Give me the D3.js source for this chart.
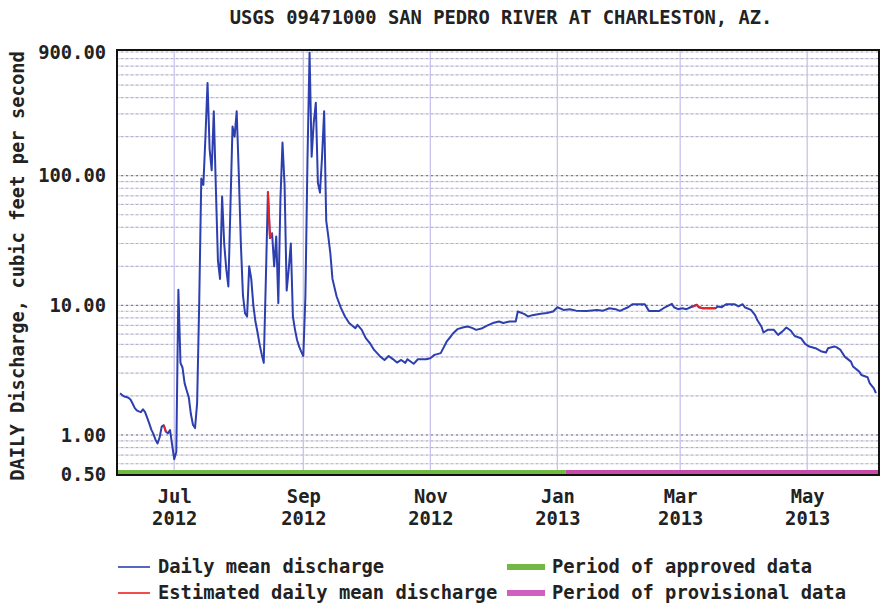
<!DOCTYPE html>
<html><head><meta charset="utf-8">
<script src="https://cdn.jsdelivr.net/npm/d3@7/dist/d3.min.js"></script>
<style>
body{margin:0;background:#fff}
text{font-family:"DejaVu Sans Mono","Liberation Mono",monospace;font-weight:bold;fill:#222}
</style>
</head><body>
<svg id="chart" width="882" height="608"></svg>
<script>
// ---------------- data ----------------
const title = "USGS 09471000 SAN PEDRO RIVER AT CHARLESTON, AZ.";
const yLabel = "DAILY Discharge, cubic feet per second";

const dates = [
"2012-06-05","2012-06-06","2012-06-07","2012-06-08","2012-06-09","2012-06-10","2012-06-11","2012-06-12","2012-06-13","2012-06-14",
"2012-06-15","2012-06-16","2012-06-17","2012-06-18","2012-06-19","2012-06-20","2012-06-21","2012-06-22","2012-06-23","2012-06-24",
"2012-06-25","2012-06-26","2012-06-27","2012-06-28","2012-06-29","2012-06-30","2012-07-01","2012-07-02","2012-07-03","2012-07-04",
"2012-07-05","2012-07-06","2012-07-07","2012-07-08","2012-07-09","2012-07-10","2012-07-11","2012-07-12","2012-07-13","2012-07-14",
"2012-07-15","2012-07-16","2012-07-17","2012-07-18","2012-07-19","2012-07-20","2012-07-21","2012-07-22","2012-07-23","2012-07-24",
"2012-07-25","2012-07-26","2012-07-27","2012-07-28","2012-07-29","2012-07-30","2012-07-31","2012-08-01","2012-08-02","2012-08-03",
"2012-08-04","2012-08-05","2012-08-06","2012-08-07","2012-08-08","2012-08-09","2012-08-10","2012-08-11","2012-08-12","2012-08-13",
"2012-08-14","2012-08-15","2012-08-16","2012-08-17","2012-08-18","2012-08-19","2012-08-20","2012-08-21","2012-08-22","2012-08-23",
"2012-08-24","2012-08-25","2012-08-26","2012-08-27","2012-08-28","2012-08-29","2012-08-30","2012-08-31","2012-09-01","2012-09-02",
"2012-09-03","2012-09-04","2012-09-05","2012-09-06","2012-09-07","2012-09-08","2012-09-09","2012-09-10","2012-09-11","2012-09-12",
"2012-09-13","2012-09-14","2012-09-15","2012-09-17","2012-09-19","2012-09-21","2012-09-23","2012-09-26","2012-09-27","2012-09-29",
"2012-10-01","2012-10-03","2012-10-05","2012-10-08","2012-10-10","2012-10-12","2012-10-14","2012-10-16","2012-10-18","2012-10-20",
"2012-10-21","2012-10-24","2012-10-26","2012-10-30","2012-11-01","2012-11-03","2012-11-06","2012-11-09","2012-11-11","2012-11-12",
"2012-11-14","2012-11-17","2012-11-19","2012-11-21","2012-11-23","2012-11-26","2012-11-28","2012-12-01","2012-12-04","2012-12-06",
"2012-12-09","2012-12-12","2012-12-13","2012-12-16","2012-12-18","2012-12-20","2012-12-24","2012-12-27","2012-12-30","2013-01-01",
"2013-01-04","2013-01-07","2013-01-10","2013-01-15","2013-01-20","2013-01-23","2013-01-26","2013-01-29","2013-01-31","2013-02-04",
"2013-02-06","2013-02-12","2013-02-14","2013-02-19","2013-02-21","2013-02-25","2013-02-26","2013-02-28","2013-03-02","2013-03-04",
"2013-03-06","2013-03-07","2013-03-09","2013-03-10","2013-03-12","2013-03-18","2013-03-19","2013-03-21","2013-03-23","2013-03-27",
"2013-03-29","2013-03-31","2013-04-01","2013-04-04","2013-04-06","2013-04-07","2013-04-09","2013-04-10","2013-04-12","2013-04-15",
"2013-04-17","2013-04-19","2013-04-21","2013-04-23","2013-04-25","2013-04-28","2013-04-30","2013-05-02","2013-05-05","2013-05-08",
"2013-05-10","2013-05-11","2013-05-14","2013-05-15","2013-05-17","2013-05-19","2013-05-22","2013-05-23","2013-05-26","2013-05-27",
"2013-05-30","2013-05-31","2013-06-02","2013-06-03"
];
const discharge = [
2.10,2.03,1.98,1.96,1.94,1.88,1.75,1.62,1.55,1.52,
1.50,1.58,1.50,1.36,1.23,1.10,1.02,0.92,0.86,0.96,
1.16,1.19,1.06,1.03,1.09,0.84,0.65,0.74,13.2,3.6,
3.3,2.5,2.2,1.95,1.45,1.2,1.13,1.76,10.4,95,
85,200,520,160,110,314,80,22,16,69,
30,19,14,58,240,200,314,105,30,12,
8.7,8.2,20,16,10,7.5,6.2,5.0,4.2,3.6,
15.7,75,33,36,20,34,10.4,65,180,85,
13,19,30,8.2,6.5,5.4,4.8,4.4,4.07,11.7,
133,890,140,256,365,88,74,140,314,45,
34,25,16,11.7,9.6,8.2,7.3,6.66,7.07,6.5,
5.58,5.1,4.53,4.02,3.79,4.07,3.85,3.62,3.79,3.6,
3.84,3.54,3.84,3.84,3.91,4.15,4.28,5.3,5.8,6.1,
6.55,6.78,6.87,6.7,6.47,6.66,6.94,7.3,7.5,7.3,
7.5,7.5,8.97,8.6,8.2,8.4,8.6,8.72,8.97,9.67,
9.22,9.34,9.1,9.06,9.22,9.1,9.5,9.34,9.06,9.67,
10.2,10.2,9.06,9.06,9.5,10.26,9.67,9.34,9.5,9.34,
9.67,9.8,10.1,9.67,9.5,9.5,9.8,9.67,10.2,10.2,
9.8,10.2,9.67,9.22,8.4,7.7,6.87,6.17,6.47,6.47,
5.92,6.27,6.74,6.4,5.8,5.58,5.04,4.81,4.67,4.4,
4.32,4.67,4.81,4.76,4.53,4.02,3.68,3.37,3.08,2.9,
2.79,2.51,2.29,2.1
];
const estimatedDates = ["2012-06-26","2012-06-27","2012-08-15","2012-08-16","2012-08-17",
  "2013-03-07","2013-03-09","2013-03-10","2013-03-12","2013-03-18"];

const yTicks = [0.5, 1, 10, 100, 900];
const xTickDates = ["2012-07-01","2012-09-01","2012-11-01","2013-01-01","2013-03-01","2013-05-01"];
const periodStart = "2012-06-04", periodEnd = "2013-06-04";
const provisionalStart = "2013-01-05";
const legendLines = [
  {label:"Daily mean discharge", color:"#2d3fae", kind:"line"},
  {label:"Estimated daily mean discharge", color:"#ee2020", kind:"line"},
  {label:"Period of approved data", color:"#72b844", kind:"bar"},
  {label:"Period of provisional data", color:"#d060c0", kind:"bar"}
];

// ---------------- chart ----------------
const parse = d3.utcParse("%Y-%m-%d");
const svg = d3.select("#chart");
const L = 117, R = 879, T = 50, B = 475;

const x = d3.scaleUtc().domain([parse(periodStart), parse(periodEnd)]).range([118, 878]);
const y = d3.scaleLog().domain([0.5, 900]).range([474, 52]);

const estSet = new Set(estimatedDates);
const data = dates.map((d,i)=>({date:parse(d), v:discharge[i], est:estSet.has(d)}));

// horizontal grid
const gridVals = [];
for (let e=-1; e<=2; e++) for (let k=1; k<=9; k++) { const v = k*Math.pow(10,e); if (v>=0.5 && v<=900) gridVals.push(v); }
const g = svg.append("g");
g.selectAll("line.hgl").data(gridVals).join("line")
  .attr("x1",L).attr("x2",R).attr("y1",d=>y(d)).attr("y2",d=>y(d))
  .attr("stroke","#dcd9f2").attr("stroke-width",1.2);
g.selectAll("line.hg").data(gridVals).join("line")
  .attr("x1",L+4).attr("x2",R).attr("y1",d=>y(d)).attr("y2",d=>y(d))
  .attr("stroke",d=>[1,10,100].includes(d)?"#333":"#777")
  .attr("stroke-opacity",d=>[1,10,100].includes(d)?0.7:0.45)
  .attr("stroke-dasharray","2,3").attr("stroke-width",1);

// vertical grid
g.selectAll("line.vg").data(xTickDates).join("line")
  .attr("x1",d=>x(parse(d))).attr("x2",d=>x(parse(d)))
  .attr("y1",T).attr("y2",B)
  .attr("stroke","#c8c4ee").attr("stroke-width",1.3);

// series
const line = d3.line().x(d=>x(d.date)).y(d=>y(d.v));
svg.append("path").datum(data).attr("d",line)
  .attr("fill","none").attr("stroke","#2d3fae").attr("stroke-width",2).attr("stroke-linejoin","round");
const redSegs = [];
for (let i=0;i<data.length-1;i++) if (data[i].est && data[i+1].est) redSegs.push([data[i],data[i+1]]);
svg.selectAll("path.est").data(redSegs).join("path")
  .attr("d",line).attr("fill","none").attr("stroke","#ee2020").attr("stroke-width",2);

// approval bar
svg.append("rect").attr("x",L).attr("y",470).attr("width",x(parse(provisionalStart))-L).attr("height",4).attr("fill","#72b844");
svg.append("rect").attr("x",x(parse(provisionalStart))).attr("y",470).attr("width",R-x(parse(provisionalStart))).attr("height",4).attr("fill","#c84aa8");

// frame
svg.append("rect").attr("x",L).attr("y",T).attr("width",R-L).attr("height",B-T)
  .attr("fill","none").attr("stroke","#111").attr("stroke-width",2);

// y axis
const yAxis = svg.append("g").attr("transform",`translate(${L},0)`)
  .call(d3.axisLeft(y).tickValues(yTicks).tickFormat(d3.format(".2f")).tickSize(0).tickPadding(11));
yAxis.select(".domain").remove();
yAxis.selectAll("text").style("font-size","18.8px").style("font-family",'"DejaVu Sans Mono",monospace').attr("fill","#222");

// x axis
const monthFmt = d3.utcFormat("%b"), yearFmt = d3.utcFormat("%Y");
const xAxis = svg.append("g").attr("transform",`translate(0,${B})`)
  .call(d3.axisBottom(x).tickValues(xTickDates.map(parse)).tickFormat(monthFmt).tickSize(0).tickPadding(0));
xAxis.select(".domain").remove();
xAxis.selectAll("text").each(function(d){
  const t = d3.select(this).text(null).attr("y",0).attr("dy",null)
    .style("font-size","18.8px").style("font-family",'"DejaVu Sans Mono",monospace').attr("fill","#222");
  t.append("tspan").attr("x",0).attr("y",28).text(monthFmt(d));
  t.append("tspan").attr("x",0).attr("y",50).text(yearFmt(d));
});

// title
svg.append("text").attr("x",501).attr("y",24).attr("text-anchor","middle")
  .style("font-size","18.8px").text(title);
// y label
svg.append("text").attr("transform","translate(24,266) rotate(-90)").attr("text-anchor","middle")
  .style("font-size","18.8px").text(yLabel);

// legend
const lg = svg.append("g");
const legPos = [[118,567],[118,593],[507,567],[507,593]];
legendLines.forEach((it,i)=>{
  const [lx,ly] = legPos[i];
  if (it.kind==="line") {
    lg.append("line").attr("x1",lx).attr("x2",lx+32).attr("y1",ly).attr("y2",ly).attr("stroke",it.color).attr("stroke-width",1.6);
    lg.append("text").attr("x",lx+40).attr("y",ly+6).style("font-size","18.8px").text(it.label);
  } else {
    lg.append("rect").attr("x",lx).attr("y",ly-3).attr("width",38).attr("height",6).attr("fill",it.color);
    lg.append("text").attr("x",lx+45).attr("y",ly+6).style("font-size","18.8px").text(it.label);
  }
});
</script>
</body></html>
